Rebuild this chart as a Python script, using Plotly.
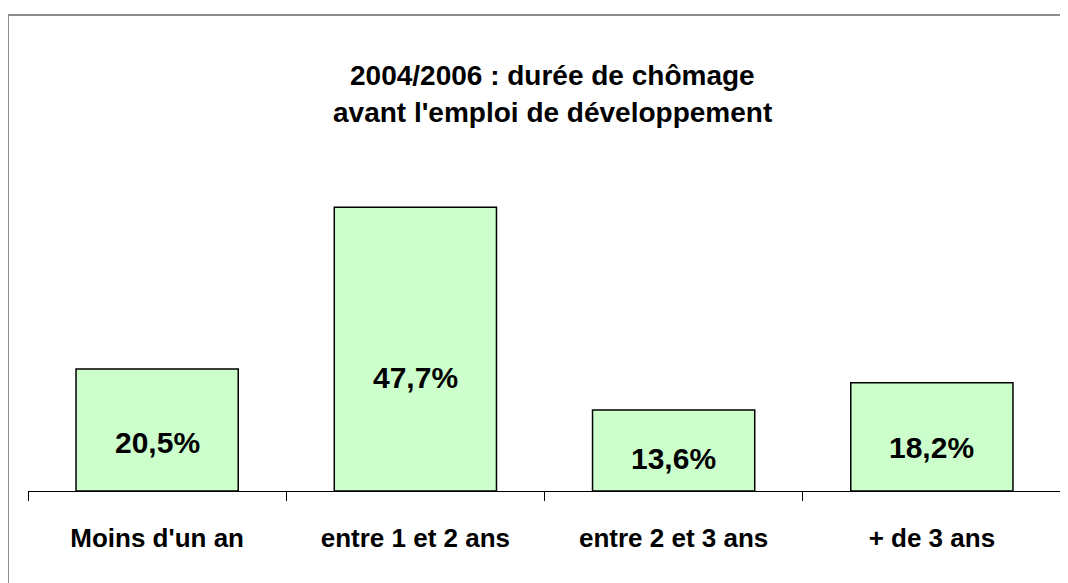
import plotly.graph_objects as go

categories = ["Moins d'un an", "entre 1 et 2 ans", "entre 2 et 3 ans", "+ de 3 ans"]
shares = [20.5, 47.7, 13.6, 18.2]
share_labels = ["20,5%", "47,7%", "13,6%", "18,2%"]
title_lines = ["2004/2006 : durée de chômage", "avant l'emploi de développement"]

bold_font = "Liberation Sans, Arial, sans-serif"

fig = go.Figure()
fig.add_trace(go.Bar(
    x=categories,
    y=shares,
    marker=dict(color='#ccffcc', line=dict(color='#000000', width=1.5)),
    hoverinfo='skip'
))

# data labels sit in the lower part of each bar, as in the original
for cat, val, lab in zip(categories, shares, share_labels):
    fig.add_annotation(
        x=cat, y=val * 0.4, text='<b>' + lab + '</b>', showarrow=False,
        xref='x', yref='y', yanchor='middle',
        font=dict(family=bold_font, size=30, color='#000000')
    )

# two-line title
for i, line in enumerate(title_lines):
    fig.add_annotation(
        x=0.508, y=1.165 - i * 0.106, text='<b>' + line + '</b>', showarrow=False,
        xref='paper', yref='paper', yanchor='middle',
        font=dict(family=bold_font, size=28, color='#000000')
    )

# chart-area frame (cut off on the right and bottom)
fig.add_shape(
    type='rect', xref='paper', yref='paper',
    x0=-0.0194, x1=1.2, y0=-0.5, y1=1.333,
    line=dict(color='#8c8c8c', width=2), fillcolor='rgba(0,0,0,0)'
)

# the page body adds 8px, so margins are shifted by that amount
fig.update_layout(
    width=1068, height=583,
    margin=dict(l=20, r=15, t=126, b=100),
    paper_bgcolor='white', plot_bgcolor='white',
    bargap=0.372,
    showlegend=False,
    xaxis=dict(
        showline=True, linecolor='#000000', linewidth=1,
        ticks='outside', tickson='boundaries', ticklen=9, tickcolor='#000000', tickwidth=1,
        showgrid=False,
        tickfont=dict(family=bold_font, size=26, color='#000000', weight='bold'),
        ticklabelstandoff=24
    ),
    yaxis=dict(range=[0, 60], visible=False, showgrid=False)
)

fig.write_html("out.html")
